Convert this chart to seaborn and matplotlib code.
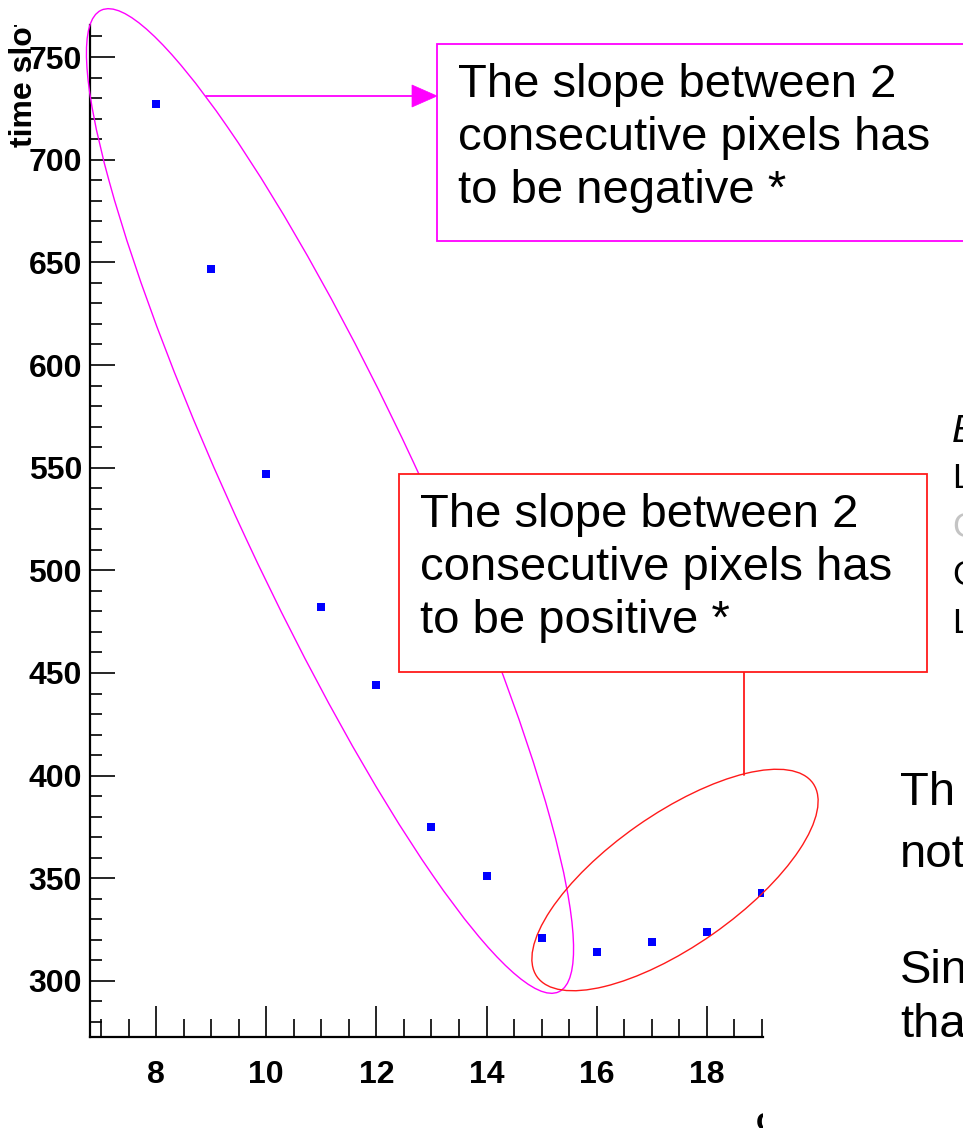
import matplotlib
matplotlib.use("Agg")
import numpy as np
import pandas as pd
import seaborn as sns
import matplotlib.pyplot as plt
from matplotlib.patches import Ellipse, Rectangle, Polygon
from matplotlib.lines import Line2D
from matplotlib.ticker import MultipleLocator
from matplotlib.transforms import Bbox, TransformedBbox

# ---- data ----
pixel = [8, 9, 10, 11, 12, 13, 14, 15, 16, 17, 18, 19]
time_slot = [727, 647, 547, 482, 444, 375, 351, 321, 314, 319, 324, 343]
x_ticks = [8, 10, 12, 14, 16, 18]
y_ticks = [300, 350, 400, 450, 500, 550, 600, 650, 700, 750]
y_title = "time slot"
x_title_fragment = "c"

box_neg_lines = ["The slope between 2", "consecutive pixels has", "to be negative *"]
box_pos_lines = ["The slope between 2", "consecutive pixels has", "to be positive *"]
side_fragments = ["E", "L", "C", "C", "L"]
bottom_fragments = ["Th", "not", "Sin", "tha"]

# ---- style ----
sns.set_theme(style="white")
plt.rcParams["font.family"] = ["Liberation Sans", "DejaVu Sans"]

W, H = 963, 1128
fig = plt.figure(figsize=(W / 100, H / 100), dpi=100)
fig.patch.set_facecolor("white")

# main ROOT-like axes
ax = fig.add_axes([90 / W, 1 - 1037 / H, (763 - 90) / W, (1037 - 25) / H])
ax.set_facecolor("none")
df = pd.DataFrame({"pixel": pixel, "time_slot": time_slot})
sns.scatterplot(data=df, x="pixel", y="time_slot", marker="s", s=26,
                color="#0000ff", linewidth=0, ax=ax, zorder=3)
ax.set_xlim(6.8, 19.02)
ax.set_ylim(272.7, 765.6)
ax.set_xlabel("")
ax.set_ylabel("")
ax.set_xticks(x_ticks)
ax.set_xticklabels([str(v) for v in x_ticks])
ax.set_yticks(y_ticks)
ax.set_yticklabels([str(v) for v in y_ticks])
ax.xaxis.set_minor_locator(MultipleLocator(0.5))
ax.yaxis.set_minor_locator(MultipleLocator(10))
for s in ["top", "right"]:
    ax.spines[s].set_visible(False)
for s in ["left", "bottom"]:
    ax.spines[s].set_color("black")
    ax.spines[s].set_linewidth(1.6)
ax.tick_params(axis="x", which="major", direction="in", length=22.5, width=1.2,
               pad=16.5, labelsize=23, colors="black", bottom=True, top=False)
ax.tick_params(axis="x", which="minor", direction="in", length=13, width=1.2,
               bottom=True, top=False, colors="black")
ax.tick_params(axis="y", which="major", direction="in", length=18, width=1.2,
               pad=5.8, labelsize=23, colors="black", left=True, right=False)
ax.tick_params(axis="y", which="minor", direction="in", length=8.6, width=1.2,
               left=True, right=False, colors="black")
for lbl in ax.get_xticklabels() + ax.get_yticklabels():
    lbl.set_fontweight("bold")
ax.grid(False)

# overlay axes in pixel coordinates (origin top-left)
ov = fig.add_axes([0, 0, 1, 1], zorder=5)
ov.set_xlim(0, W)
ov.set_ylim(H, 0)
ov.axis("off")
ov.patch.set_alpha(0)

MAG = "#ff00ff"
RED = "#ff1a1a"

# axis titles (cropped like the reference)
yt = ov.text(24, 147, y_title, rotation=90, fontsize=23, fontweight="bold",
             ha="center", va="bottom", color="black")
yt.set_clip_box(TransformedBbox(Bbox.from_extents(0, 0, 1, (H - 25) / H), fig.transFigure))
yt.set_clip_on(True)
xt = ov.text(756, 1130, x_title_fragment, fontsize=23, fontweight="bold",
             ha="left", va="baseline", color="black")
xt.set_clip_box(TransformedBbox(Bbox.from_extents(0, 0, 763 / W, 1), fig.transFigure))
xt.set_clip_on(True)

# magenta ellipse + box + arrow
ov.add_patch(Ellipse((330, 501), 1083, 184, angle=65, fill=False, ec=MAG, lw=1.0, zorder=2))
ov.add_patch(Rectangle((437, 44), 560, 197, fc="white", ec=MAG, lw=1.3, zorder=3))
ov.add_line(Line2D([206, 414], [96, 96], color=MAG, lw=1.3, zorder=3))
ov.add_patch(Polygon([(412, 85), (437, 96), (412, 107)], closed=True, fc=MAG, ec=MAG, lw=0.5, zorder=3))
for i, line in enumerate(box_neg_lines):
    ov.text(458, 97 + 53 * i, line, fontsize=34, ha="left", va="baseline", color="black", zorder=4)

# red ellipse + box + connector
ov.add_patch(Ellipse((675, 880), 337, 132, angle=-35, fill=False, ec=RED, lw=1.0, zorder=2))
ov.add_line(Line2D([744, 744], [672, 775], color=RED, lw=1.3, zorder=3))
ov.add_patch(Rectangle((399, 474), 528, 198, fc="white", ec=RED, lw=1.3, zorder=3))
for i, line in enumerate(box_pos_lines):
    ov.text(420, 527 + 53 * i, line, fontsize=34, ha="left", va="baseline", color="black", zorder=4)

# slide text fragments on the right
side_base = [442, 488, 537, 585, 633]
side_colors = ["black", "black", "#c4c4c4", "black", "black"]
for i, (t, b, c) in enumerate(zip(side_fragments, side_base, side_colors)):
    ov.text(952, b, t, fontsize=28 if i == 0 else 25, style="italic" if i == 0 else "normal",
            ha="left", va="baseline", color=c, zorder=4)

bottom_base = [805, 867, 983, 1037]
for t, b in zip(bottom_fragments, bottom_base):
    ov.text(900, b, t, fontsize=34, ha="left", va="baseline", color="black", zorder=4)

fig.savefig("out.png", dpi=100)
